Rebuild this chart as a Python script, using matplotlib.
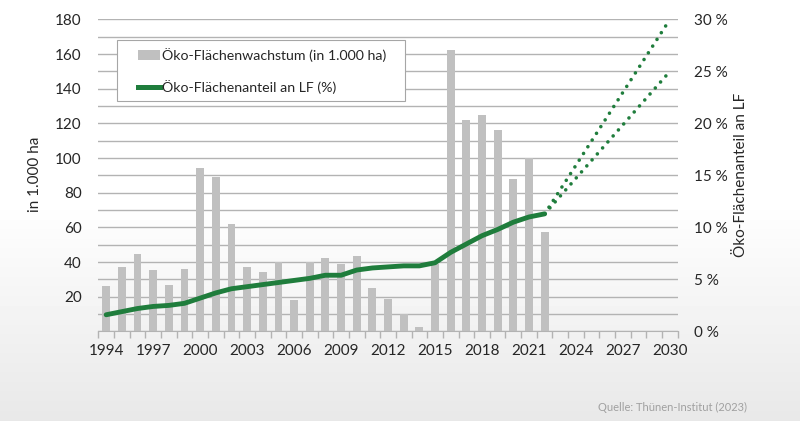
import numpy as np
import matplotlib.pyplot as plt
from matplotlib.ticker import MultipleLocator, FixedLocator, FuncFormatter
from matplotlib.lines import Line2D
from matplotlib.patches import Patch, Rectangle

plt.rcParams['font.family'] = ['Lato', 'DejaVu Sans']

# --- data ---
years = list(range(1994, 2023))
growth = [26, 37, 44.5, 35.5, 27, 36, 94, 89, 62, 37, 34, 40, 18, 40, 42.5,
          39, 43.5, 25, 18.5, 10, 2.5, 39, 162.5, 122, 125, 116, 88, 100, 57.5]
share = [1.6, 1.9, 2.2, 2.4, 2.5, 2.7, 3.2, 3.7, 4.1, 4.3, 4.5, 4.7, 4.9, 5.1,
         5.4, 5.4, 5.9, 6.1, 6.2, 6.3, 6.3, 6.6, 7.6, 8.4, 9.2, 9.8, 10.5, 11.0, 11.3]
target_years = [2022, 2030]
target_30 = [11.3, 30]
target_25 = [11.3, 25]
tick_years = list(range(1994, 2031, 3))

GREEN = '#1f7d3c'
BAR = '#c0c0c0'
GRID = '#b3b3b3'
TEXT = '#262626'

fig = plt.figure(figsize=(8, 4.21), dpi=100)

# background gradient (white on top, light grey at the bottom)
bg = fig.add_axes([0, 0, 1, 1], zorder=-10)
grad = np.concatenate([np.ones(200), np.linspace(1, 0.91, 221)])[:, None]
bg.imshow(grad, aspect='auto', cmap='gray', vmin=0, vmax=1, extent=[0, 1, 0, 1])
bg.axis('off')

ax = fig.add_axes([0.1229, 0.2128, 0.7243, 0.7413])
ax.patch.set_visible(False)
ax.bar(years, growth, width=0.5, color=BAR, zorder=2)
ax.set_xlim(1993.5, 2030.5)
ax.set_ylim(0, 180)
ax.yaxis.set_major_locator(FixedLocator(list(range(20, 181, 20))))
ax.yaxis.set_minor_locator(MultipleLocator(10))
ax.grid(axis='y', which='both', color=GRID, lw=1)
ax.set_axisbelow(True)
ax.xaxis.set_major_locator(FixedLocator(tick_years))
ax.xaxis.set_minor_locator(FixedLocator(np.arange(1993.5, 2031, 1)))
ax.tick_params(axis='x', which='major', length=0, pad=9, labelsize=11, labelcolor=TEXT)
ax.tick_params(axis='x', which='minor', length=5, color=GRID, width=1)
ax.tick_params(axis='y', which='both', length=0, pad=12, labelsize=11, labelcolor=TEXT)
for s in ['top', 'right', 'left']:
    ax.spines[s].set_visible(False)
ax.spines['bottom'].set_color(GRID)

ax2 = ax.twinx()
ax2.patch.set_visible(False)
ax2.set_ylim(0, 30)
ax2.yaxis.set_major_locator(FixedLocator(list(range(0, 31, 5))))
ax2.yaxis.set_major_formatter(FuncFormatter(lambda v, p: f'{v:.0f} %'))
ax2.tick_params(axis='y', length=0, pad=12, labelsize=11, labelcolor=TEXT)
for s in ax2.spines.values():
    s.set_visible(False)
ax2.plot(years, share, color=GREEN, lw=3.5, solid_capstyle='round', zorder=3)
for tgt in (target_30, target_25):
    ax2.plot(target_years, tgt, color=GREEN, lw=2.6, linestyle=(0, (0.01, 2.2)),
             dash_capstyle='round', zorder=3)

fig.text(0.044, 0.585, 'in 1.000 ha', rotation=90, ha='center', va='center',
         fontsize=11, color=TEXT)
fig.text(0.926, 0.585, 'Öko-Flächenanteil an LF', rotation=90, ha='center',
         va='center', fontsize=11, color=TEXT)
fig.text(0.934, 0.033, 'Quelle: Thünen-Institut (2023)', ha='right', va='center',
         fontsize=8, color='#a0a0a0')

# legend box
fig.patches.append(Rectangle((0.146, 0.760), 0.360, 0.145, transform=fig.transFigure,
                             facecolor='white', edgecolor='#a6a6a6', lw=0.8, zorder=5))
handles = [Patch(facecolor=BAR, edgecolor='none'),
           Line2D([], [], color=GREEN, lw=3.6)]
labels = ['Öko-Flächenwachstum (in 1.000 ha)', 'Öko-Flächenanteil an LF (%)']
leg = fig.legend(handles, labels, loc='upper left', bbox_to_anchor=(0.173, 0.885),
                 frameon=False, fontsize=10.2, borderpad=0, borderaxespad=0,
                 handlelength=1.5, handletextpad=0.15, labelspacing=1.25)
for t in leg.get_texts():
    t.set_color(TEXT)
leg.set_zorder(6)

fig.savefig('out.png', dpi=100)
